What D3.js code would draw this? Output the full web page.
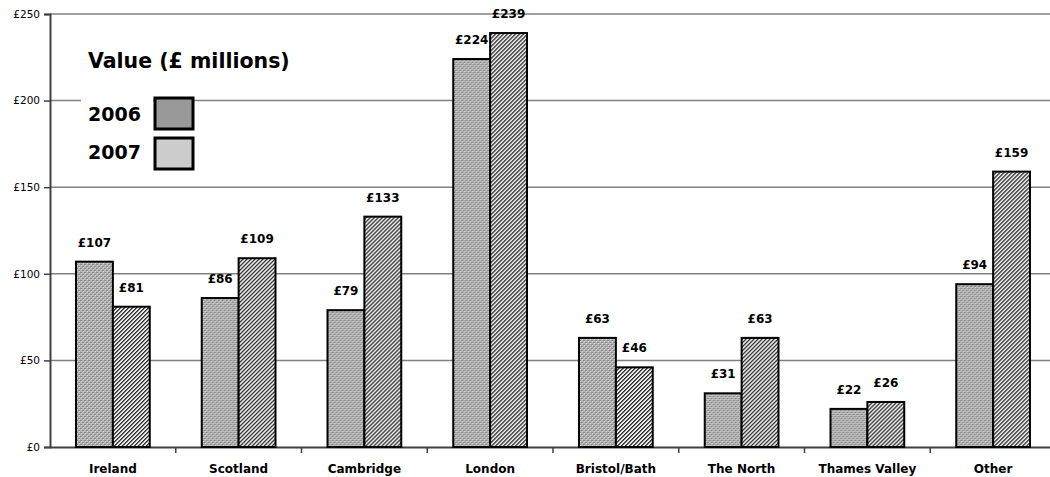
<!DOCTYPE html>
<html>
<head>
<meta charset="utf-8">
<script src="https://cdn.jsdelivr.net/npm/d3@7"></script>
<style>
  body { margin: 0; background: #fff; overflow: hidden; }
  text { font-family: "DejaVu Sans", Verdana, sans-serif; }
</style>
</head>
<body>
<div id="chart"></div>
<script>
// Chart data
const regions = ["Ireland", "Scotland", "Cambridge", "London", "Bristol/Bath", "The North", "Thames Valley", "Other"];
const values2006 = [107, 86, 79, 224, 63, 31, 22, 94];
const values2007 = [81, 109, 133, 239, 46, 63, 26, 159];
const years = ["2006", "2007"];
const yTicks = [0, 50, 100, 150, 200, 250];

const width = 1050, height = 477;
const margin = { top: 14, right: -6, bottom: 30, left: 50 };
const innerW = width - margin.left - margin.right;
const innerH = height - margin.top - margin.bottom;

const svg = d3.select("#chart").append("svg")
    .attr("width", width)
    .attr("height", height)
    .style("display", "block");

// Fill patterns imitating the printed hatching
const defs = svg.append("defs");
const p1 = defs.append("pattern").attr("id", "pat2006")
    .attr("patternUnits", "userSpaceOnUse").attr("width", 4).attr("height", 4);
p1.append("rect").attr("width", 4).attr("height", 4).attr("fill", "#b4b4b4");
p1.append("rect").attr("x", 0).attr("y", 0).attr("width", 2).attr("height", 1).attr("fill", "#888");
p1.append("rect").attr("x", 2).attr("y", 2).attr("width", 2).attr("height", 1).attr("fill", "#888");
p1.append("rect").attr("x", 1).attr("y", 1).attr("width", 1).attr("height", 1).attr("fill", "#d8d8d8");
p1.append("rect").attr("x", 3).attr("y", 3).attr("width", 1).attr("height", 1).attr("fill", "#d8d8d8");

const p2 = defs.append("pattern").attr("id", "pat2007")
    .attr("patternUnits", "userSpaceOnUse").attr("width", 4).attr("height", 4);
p2.append("rect").attr("width", 4).attr("height", 4).attr("fill", "#e8e8e8");
[[0, 3], [1, 2], [2, 1], [3, 0]].forEach(([x, y]) => {
    p2.append("rect").attr("x", x).attr("y", y).attr("width", 1).attr("height", 1).attr("fill", "#303030");
    p2.append("rect").attr("x", (x + 1) % 4).attr("y", y).attr("width", 1).attr("height", 1).attr("fill", "#666");
});

const g = svg.append("g")
    .attr("transform", "translate(" + margin.left + "," + margin.top + ")");

const x = d3.scaleBand().domain(regions).range([0, innerW]).paddingInner(0).paddingOuter(0);
const x1 = d3.scaleBand().domain(years).range([26, x.bandwidth() - 26]);
const y = d3.scaleLinear().domain([0, 250]).range([innerH, 0]);

// Gridlines
g.append("g").selectAll("line")
    .data(yTicks.filter(d => d > 0))
    .join("line")
    .attr("x1", 0).attr("x2", innerW)
    .attr("y1", d => y(d)).attr("y2", d => y(d))
    .attr("stroke", "#808080").attr("stroke-width", 1.5);

// Y axis
const yAxis = g.append("g")
    .call(d3.axisLeft(y).tickValues(yTicks).tickFormat(d => "£" + d).tickSize(6).tickPadding(4));
yAxis.select(".domain").attr("stroke", "#404040").attr("stroke-width", 2);
yAxis.selectAll(".tick line").attr("stroke", "#404040").attr("stroke-width", 1.5);
yAxis.selectAll("text").attr("font-size", "10.5px").attr("fill", "#000")
    .attr("font-family", "DejaVu Sans, sans-serif");

// X axis
const xAxis = g.append("g").attr("transform", "translate(0," + innerH + ")")
    .call(d3.axisBottom(x).tickSize(0).tickPadding(17));
xAxis.select(".domain").attr("stroke", "#404040").attr("stroke-width", 2);
xAxis.selectAll("text").attr("font-size", "12px").attr("font-weight", "bold").attr("fill", "#000");
g.append("g").selectAll("line")
    .data(regions.slice(1))
    .join("line")
    .attr("x1", d => x(d)).attr("x2", d => x(d))
    .attr("y1", innerH).attr("y2", innerH + 6)
    .attr("stroke", "#404040").attr("stroke-width", 1.5);

// Bars
const rows = regions.map((r, i) => ({ region: r, values: [values2006[i], values2007[i]] }));
const groups = g.append("g").selectAll("g")
    .data(rows)
    .join("g")
    .attr("transform", d => "translate(" + x(d.region) + ",0)");

groups.selectAll("rect")
    .data(d => d.values.map((v, j) => ({ year: years[j], value: v })))
    .join("rect")
    .attr("x", d => x1(d.year))
    .attr("y", d => y(d.value))
    .attr("width", x1.bandwidth())
    .attr("height", d => innerH - y(d.value))
    .attr("fill", d => "url(#pat" + d.year + ")")
    .attr("stroke", "#000").attr("stroke-width", 2);

groups.selectAll("text.val")
    .data(d => d.values.map((v, j) => ({ year: years[j], value: v })))
    .join("text")
    .attr("class", "val")
    .attr("x", d => x1(d.year) + x1.bandwidth() / 2)
    .attr("y", d => y(d.value) - 15)
    .attr("text-anchor", "middle")
    .attr("font-size", "12px").attr("font-weight", "bold")
    .text(d => "£" + d.value);

// Legend
const legend = svg.append("g");
legend.append("rect").attr("x", 81).attr("y", 90).attr("width", 72).attr("height", 80).attr("fill", "#fff");
legend.append("text").attr("x", 88).attr("y", 68)
    .attr("font-size", "20.5px").attr("font-weight", "bold")
    .text("Value (£ millions)");
const swatchColors = ["#999999", "#cccccc"];
years.forEach((yr, i) => {
    legend.append("text").attr("x", 88).attr("y", 121 + i * 38)
        .attr("font-size", "19px").attr("font-weight", "bold")
        .text(yr);
    legend.append("rect").attr("x", 155).attr("y", 98 + i * 40)
        .attr("width", 38).attr("height", 31)
        .attr("fill", swatchColors[i]).attr("stroke", "#000").attr("stroke-width", 3);
});
</script>
</body>
</html>
